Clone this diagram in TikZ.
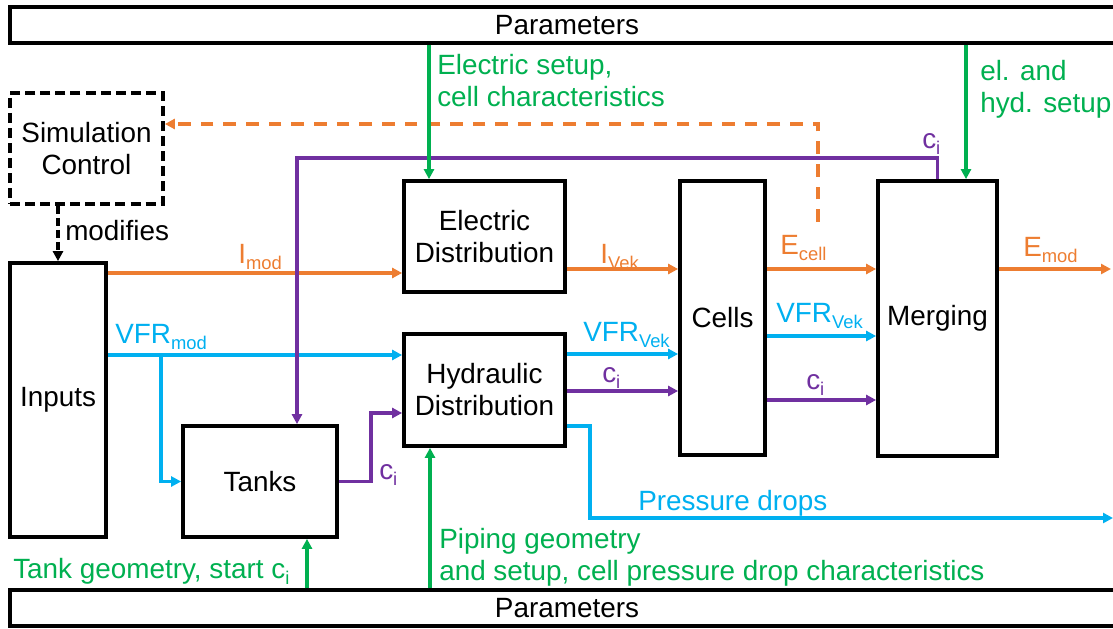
\documentclass[tikz,border=0pt]{standalone}
\usepackage{fontspec}
\setmainfont{Liberation Sans}
\usepackage{graphicx}
\usepackage{tikz}
\usetikzlibrary{arrows.meta,positioning,calc}

\definecolor{ppOrange}{HTML}{ED7D31}
\definecolor{ppBlue}{HTML}{00B0F0}
\definecolor{ppPurple}{HTML}{7030A0}
\definecolor{ppGreen}{HTML}{00B050}
\newcommand{\lo}[1]{\raisebox{-4.5pt}{\fontsize{13.8}{14}\selectfont #1}}

\begin{document}
\begin{tikzpicture}[x=0.75pt,y=-0.75pt,>={Triangle[length=7.5pt,width=7.5pt]},
  every node/.style={font=\fontsize{20.9}{24}\selectfont},
  blk/.style={draw,line width=2.8pt,inner sep=0pt,align=center},
  bar/.style={draw,line width=2.6pt,inner sep=0pt,minimum width=1114*0.75pt,minimum height=36*0.75pt},
  lbl/.style={inner sep=0pt,anchor=base west,align=left},
  ornline/.style={draw=ppOrange,line width=2.3pt,->},
  bluline/.style={draw=ppBlue,line width=2.3pt,->},
  purline/.style={draw=ppPurple,line width=2.3pt,->},
  grnline/.style={draw=ppGreen,line width=2.3pt,->}]
\useasboundingbox (0,0) rectangle (1113,628);
\clip (0,0) rectangle (1113,628);

% parameter bars
\node[bar] (parT) at (567,25) {Parameters};
\node[bar] (parB) at (567,608) {Parameters};

% blocks
\node[blk,dash pattern=on 7.5pt off 3.8pt,minimum width=153*0.75pt,minimum height=111*0.75pt] (simc) at (86.5,148.5) {Simulation\\Control};
\node[blk,minimum width=96*0.75pt,minimum height=274*0.75pt] (inp) at (58,400) {Inputs};
\node[blk,minimum width=154*0.75pt,minimum height=111*0.75pt] (tanks) at (260,481.5) {Tanks};
\node[blk,minimum width=161*0.75pt,minimum height=111*0.75pt] (ed) at (484.5,236.5) {Electric\\Distribution};
\node[blk,minimum width=161*0.75pt,minimum height=112*0.75pt] (hd) at (484.5,390) {Hydraulic\\Distribution};
\node[blk,minimum width=85*0.75pt,minimum height=274*0.75pt] (cells) at (722.5,318) {Cells};
\node[blk,minimum width=119*0.75pt,minimum height=275*0.75pt] (merg) at (937.5,318.5) {Merging};

\coordinate (emodEnd) at (1111,269);
\coordinate (pdEnd) at (1113,518);
\coordinate (fbStart) at (818,222);
\coordinate (vfrSplit) at (161,355);

% electric paths
\draw[ornline] (inp.east |- 0,273) -- (ed.west |- 0,273);
\draw[ornline] (ed.east |- 0,269) -- (cells.west |- 0,269);
\draw[ornline] (cells.east |- 0,269) -- (merg.west |- 0,269);
\draw[ornline] (merg.east |- 0,269) -- (emodEnd);
\draw[ornline,line width=2.6pt,dash pattern=on 9.5pt off 7.5pt] (fbStart) |- (simc.east |- 0,124);

% hydraulic paths
\draw[bluline] (inp.east |- 0,355) -- (hd.west |- 0,355);
\draw[bluline] (vfrSplit) |- (tanks.west);
\draw[bluline] (hd.east |- 0,354) -- (cells.west |- 0,354);
\draw[bluline] (cells.east |- 0,336) -- (merg.west |- 0,336);
\draw[bluline] (hd.east |- 0,426) -- (590,426) |- (pdEnd);

% concentrations
\draw[purline] (tanks.east) -- (371,481.5) |- (hd.west |- 0,413);
\draw[purline] (hd.east |- 0,391) -- (cells.west |- 0,391);
\draw[purline] (cells.east |- 0,400) -- (merg.west |- 0,400);
\draw[purline] (merg.north) |- (297,158) -- (tanks.north -| 297,0);

% parameters
\draw[grnline] (parT.south -| 429,0) -- (ed.north -| 429,0);
\draw[grnline] (parT.south -| 966,0) -- (merg.north -| 966,0);
\draw[grnline] (parB.north -| 307,0) -- (tanks.south -| 307,0);
\draw[grnline] (parB.north -| 430,0) -- (hd.south -| 430,0);

\draw[->,line width=2.8pt,dash pattern=on 6pt off 3pt] (simc.south -| inp.north) -- (inp.north);

% labels
\node[lbl] (lmodif) at (65,240) {modifies};
\node[lbl,text=ppOrange] (limod) at (238,263) {I\lo{mod}};
\node[lbl,text=ppOrange] (livek) at (600,263) {I\lo{Vek}};
\node[lbl,text=ppOrange] (lecell) at (780,254) {E\lo{cell}};
\node[lbl,text=ppOrange] (lemod) at (1023,256) {E\lo{mod}};
\node[lbl,text=ppBlue] (lvfrmod) at (115,343) {VFR\lo{mod}};
\node[lbl,text=ppBlue] (lvfrvek) at (583,341) {VFR\lo{Vek}};
\node[lbl,text=ppBlue] (lvfrvekb) at (776,322) {VFR\lo{Vek}};
\node[lbl,text=ppBlue] (lpdrop) at (638,510) {Pressure drops};
\node[lbl,text=ppPurple] (lcitank) at (379,479) {c\lo{i}};
\node[lbl,text=ppPurple] (lcihd) at (602,382) {c\lo{i}};
\node[lbl,text=ppPurple] (lcicell) at (806,389) {c\lo{i}};
\node[lbl,text=ppPurple] (lcimerg) at (922,148) {c\lo{i}};
\node[lbl,text=ppGreen] (lelec) at (437,106) {Electric setup,\\cell characteristics};
\node[lbl,text=ppGreen] (lhyd) at (980,112) {el. and\\hyd. setup};
\node[lbl,text=ppGreen] (ltank) at (13,578) {Tank geometry, start c\lo{i}};
\node[lbl,text=ppGreen] (lpipe) at (439,580) {Piping geometry\\and setup, cell pressure drop characteristics};
\end{tikzpicture}
\end{document}
